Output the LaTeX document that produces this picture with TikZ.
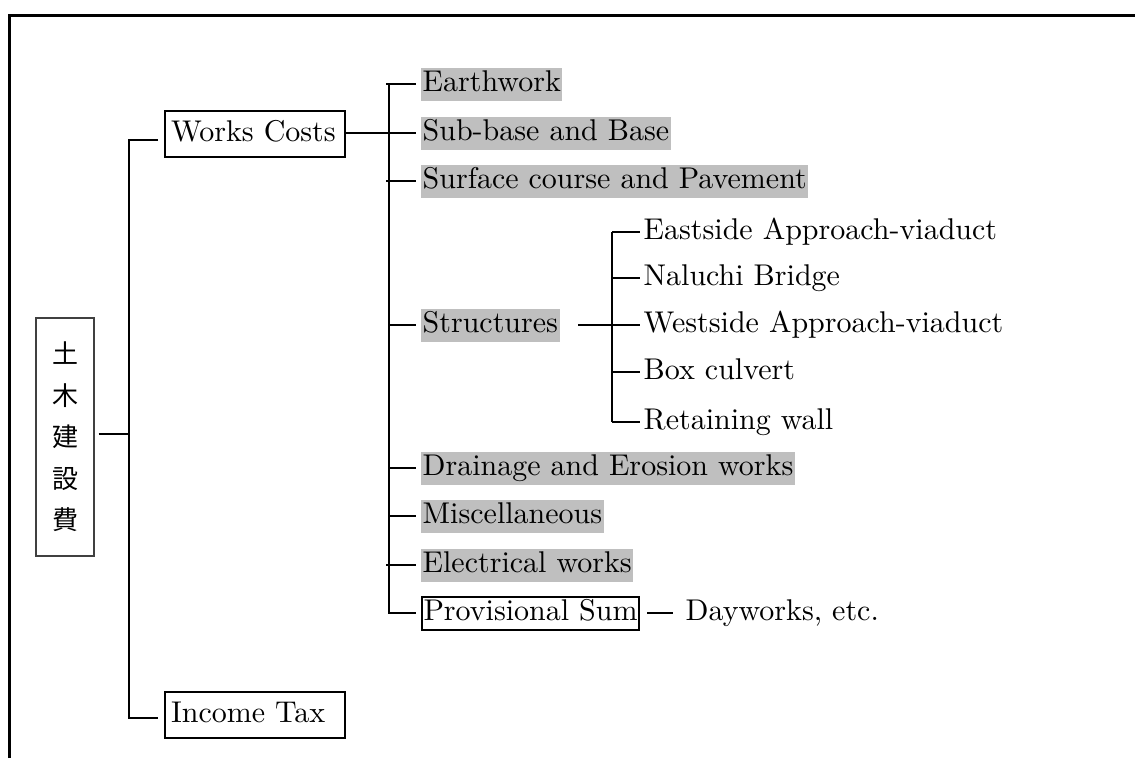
\documentclass[tikz,border=0pt]{standalone}
\usepackage{fontspec}
\setmainfont{lmroman10-regular}[Extension=.otf]
\newfontfamily\jpfont{Noto Sans CJK JP}
\begin{document}
\begin{tikzpicture}[x=1pt,y=-1pt,
  every node/.style={font=\fontsize{30}{36}\selectfont},
  wire/.style={line width=2pt},
  leaf/.style={anchor=west, inner xsep=1.5pt, inner ysep=2pt, text height=22pt, text depth=7pt},
  shaded/.style={leaf, fill=black!25},
  framed/.style={leaf, draw, line width=2pt},
  costbox/.style={draw, line width=2pt, anchor=west, text width=168pt, inner xsep=6pt,
                  minimum height=46pt, align=left, text height=22pt, text depth=7pt},
]
\useasboundingbox (0,0) rectangle (1135,758);

% outer frame (top and left edges)
\draw[line width=3pt] (9,758) -- (9,15) -- (1135,15);

% root box with vertical label
\node[draw=black!75, line width=1.2pt, minimum width=58pt, minimum height=238pt,
      inner sep=0pt, align=center, font=\jpfont\fontsize{26}{41.5}\selectfont]
      (total) at (65,437) {土\\木\\建\\設\\費};

% second level
\node[costbox] (works) at (164,134) {Works Costs};
\node[costbox] (tax) at (164,715) {Income Tax};

\coordinate (j0) at (129,434);
\coordinate (wk) at (158,140);
\coordinate (tx) at (158,718);
\draw[wire] ([xshift=4pt]total.east |- j0) -- (j0);
\draw[wire] (wk) -| (j0) |- (tx);

% cost items
\node[shaded] (earth) at (421,84)  {Earthwork};
\node[shaded] (sub)   at (421,133) {Sub-base and Base};
\node[shaded] (surf)  at (421,181) {Surface course and Pavement};
\node[shaded] (struc) at (421,325) {Structures};
\node[shaded] (drain) at (421,468) {Drainage and Erosion works};
\node[shaded] (misc)  at (421,516) {Miscellaneous};
\node[shaded] (elec)  at (421,565) {Electrical works};
\node[framed] (prov)  at (421,613) {Provisional Sum};
\node[leaf]   (day)   at (684,613) {Dayworks, etc.};

\coordinate (spine) at (389,0);
\coordinate (bus) at (386,0);
\draw[wire] (works.east |- sub.west) -- (sub.west -| spine);
\draw[wire] (earth.west -| spine) -- (prov.west -| spine) -- ([xshift=-5pt]prov.west);
\foreach \n in {earth,sub,surf,elec}
  \draw[wire] (\n.west -| bus) -- ([xshift=-5pt]\n.west);
\foreach \n in {struc,drain,misc}
  \draw[wire] (\n.west -| spine) -- ([xshift=-5pt]\n.west);
\draw[wire] ([xshift=-37pt]day.west) -- ([xshift=-11pt]day.west);

% structures breakdown
\node[leaf] (east) at (642,232) {Eastside Approach-viaduct};
\node[leaf] (nal)  at (642,278) {Naluchi Bridge};
\node[leaf] (west) at (642,325) {Westside Approach-viaduct};
\node[leaf] (box)  at (642,372) {Box culvert};
\node[leaf] (ret)  at (642,422) {Retaining wall};

\coordinate (sspine) at (612,0);
\coordinate (sj) at (578,0);
\draw[wire] (struc.east -| sj) -- (struc.east -| sspine);
\draw[wire] (east.west -| sspine) -- (ret.west -| sspine);
\foreach \n in {east,nal,west,box,ret}
  \draw[wire] (\n.west -| sspine) -- ([xshift=-2pt]\n.west);
\end{tikzpicture}
\end{document}
